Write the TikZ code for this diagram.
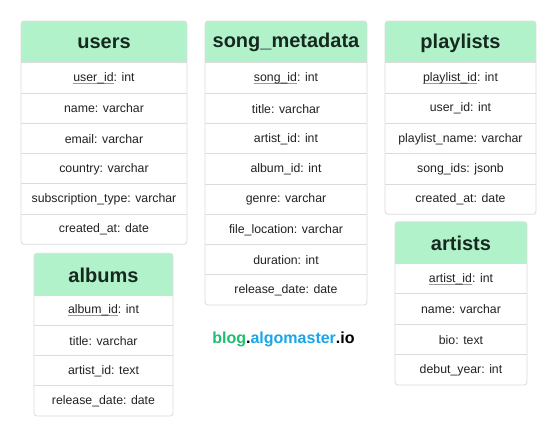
\documentclass[tikz,border=0pt]{standalone}
\usepackage{fontspec}
\setmainfont{Liberation Sans}
\definecolor{hdrfill}{HTML}{B2F2CB}
\definecolor{hdrtext}{HTML}{16291F}
\definecolor{rowtext}{HTML}{222222}
\definecolor{bordc}{HTML}{DCDCDC}
\definecolor{pkline}{HTML}{9A9A9A}
\definecolor{logogreen}{HTML}{1CBF72}
\definecolor{logoblue}{HTML}{1AA6E6}
\newcommand\pkey[1]{\setbox0\hbox{#1}\rlap{\textcolor{pkline}{\rule[-2.6pt]{\wd0}{0.9pt}}}\box0}
\tikzset{
  tabtitle/.style={font=\fontsize{20}{23}\selectfont\bfseries, text=hdrtext, inner sep=0pt},
  tabrow/.style={font=\fontsize{12.3}{14}\selectfont, text=rowtext, inner sep=0pt},
  tabframe/.style={draw=bordc, line width=0.8pt, rounded corners=3pt},
  sepline/.style={draw=bordc, line width=0.7pt},
}
% #1 name, #2 left, #3 right, #4 top, #5 header bottom, #6 bottom, #7 title, #8 rows
\newcommand\dbtab[8]{%
  \foreach \rr [count=\n] in {#8} {\xdef\nrows{\n}}%
  \pgfmathsetmacro\rh{(#6-#5)/\nrows}%
  \begin{scope}
    \clip[rounded corners=3pt] (#2,#4) rectangle (#3,#6);
    \fill[white] (#2,#4) rectangle (#3,#6);
    \fill[hdrfill] (#2,#4) rectangle (#3,#5);
  \end{scope}
  \draw[sepline] (#2,#5) -- (#3,#5);
  \foreach \i in {1,...,\nrows} {
    \ifnum\i<\nrows
      \pgfmathsetmacro\yy{#5+\i*\rh}
      \draw[sepline] (#2,\yy) -- (#3,\yy);
    \fi
  }
  \draw[tabframe] (#2,#4) rectangle (#3,#6);
  \node[tabtitle] (#1-title) at ({(#2+#3)/2},{(#4+#5)/2+1}) {#7};
  \foreach \rr [count=\i] in {#8} {
    \pgfmathsetmacro\yy{#5+(\i-0.5)*\rh+0.5}
    \node[tabrow] (#1-r\i) at ({(#2+#3)/2},\yy) {\rr};
  }
}
\begin{document}
\begin{tikzpicture}[x=1pt,y=-1pt]
\useasboundingbox (0,0) rectangle (560,436);
\fill[white] (0,0) rectangle (560,436);
\dbtab{users}{21}{187}{21}{62.7}{244.3}{users}{\pkey{user\_id}: int, name: varchar, email: varchar, country: varchar, subscription\_type: varchar, created\_at: date}
\dbtab{song}{205}{367}{21}{62.7}{305}{song\_metadata}{\pkey{song\_id}: int, title: varchar, artist\_id: int, album\_id: int, genre: varchar, file\_location: varchar, duration: int, release\_date: date}
\dbtab{playlists}{385}{536}{21}{62.7}{214.3}{playlists}{\pkey{playlist\_id}: int, user\_id: int, playlist\_name: varchar, song\_ids: jsonb, created\_at: date}
\dbtab{albums}{34}{173}{253.3}{295}{416}{albums}{\pkey{album\_id}: int, title: varchar, artist\_id: text, release\_date: date}
\dbtab{artists}{395}{527}{221.7}{263.3}{385}{artists}{\pkey{artist\_id}: int, name: varchar, bio: text, debut\_year: int}
\node[font=\fontsize{16}{18}\selectfont\bfseries, inner sep=0pt] (logo) at (283.5,339) {\textcolor{logogreen}{blog}.\textcolor{logoblue}{algomaster}.io};
\end{tikzpicture}
\end{document}
